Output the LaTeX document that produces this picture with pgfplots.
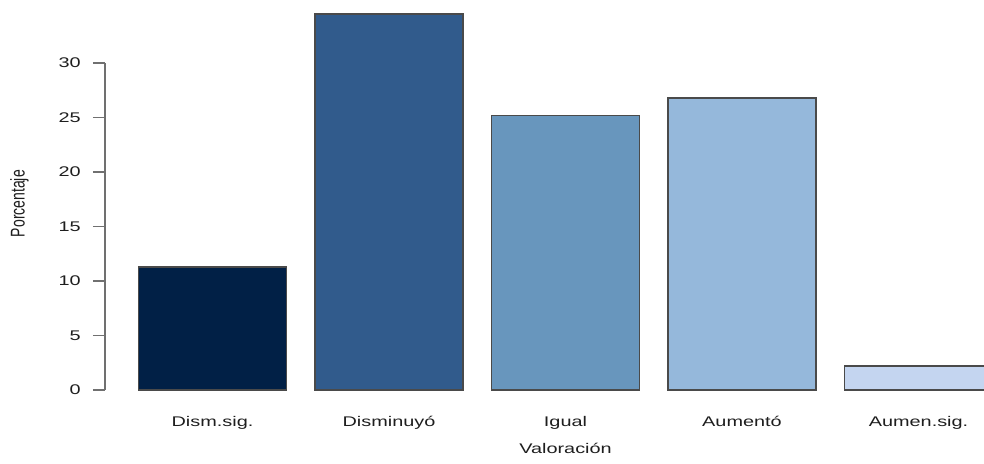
\documentclass[border=0pt]{standalone}
\usepackage{pgfplots}
\pgfplotsset{compat=1.18}
\usepackage{fontspec}
\setmainfont{Liberation Sans}
\definecolor{c1}{HTML}{012046}
\definecolor{c2}{HTML}{315B8C}
\definecolor{c3}{HTML}{6896BD}
\definecolor{c4}{HTML}{95B8DB}
\definecolor{c5}{HTML}{C4D5F0}
\definecolor{edge}{HTML}{4A4A4A}
\definecolor{axisgray}{HTML}{707070}
\definecolor{txt}{HTML}{1E1E1E}
\begin{document}
\begin{tikzpicture}
\begin{axis}[
  width=659.25pt, height=292.5pt, scale only axis,
  xmin=0.391, xmax=5.371, ymin=0, ymax=35.78,
  clip=false,
  /pgf/number format/assume math mode=true,
  axis lines=left,
  axis line style={draw=none},
  xtick={1,2,3,4,5},
  xticklabels={Dism.sig., Disminuyó, Igual, Aumentó, Aumen.sig.},
  ytick={0,5,10,15,20,25,30},
  xtick style={draw=none},
  ytick style={draw=axisgray, line width=1pt},
  xtick align=inside,
  ytick align=outside,
  major tick length=9pt,
  tick label style={font=\fontsize{10.5}{12}\selectfont, text=txt, inner sep=0pt},
  xticklabel style={anchor=base, yshift=-27pt, xscale=1.42},
  yticklabel style={anchor=east, xshift=-9pt, xscale=1.42},
  xlabel={Valoración},
  ylabel={Porcentaje},
  xlabel style={at={(axis description cs:0.5239,0)}, anchor=base, yshift=-47.25pt, font=\fontsize{10.5}{12}\selectfont, text=txt, inner sep=0pt, xscale=1.42},
  ylabel style={at={(axis description cs:-0.0973,0.478)}, anchor=center, font=\fontsize{10.5}{12}\selectfont, text=txt, inner sep=0pt, yscale=1.42},
]
\addplot[ybar, bar width=0.8386, bar shift=0pt, fill=c1, draw=edge, line width=1pt] coordinates {(1,11.3)};
\addplot[ybar, bar width=0.8386, bar shift=0pt, fill=c2, draw=edge, line width=1pt] coordinates {(2,34.5)};
\addplot[ybar, bar width=0.8386, bar shift=0pt, fill=c3, draw=edge, line width=1pt] coordinates {(3,25.2)};
\addplot[ybar, bar width=0.8386, bar shift=0pt, fill=c4, draw=edge, line width=1pt] coordinates {(4,26.8)};
\addplot[ybar, bar width=0.8386, bar shift=0pt, fill=c5, draw=edge, line width=1pt] coordinates {(5,2.2)};
\draw[axisgray, line width=1pt] (axis cs:0.391,0) -- (axis cs:0.391,30);
\end{axis}
\pgfresetboundingbox
\useasboundingbox (current axis.south west) ++(-78.75pt,-54.75pt) rectangle (current axis.north east);
\end{tikzpicture}
\end{document}
